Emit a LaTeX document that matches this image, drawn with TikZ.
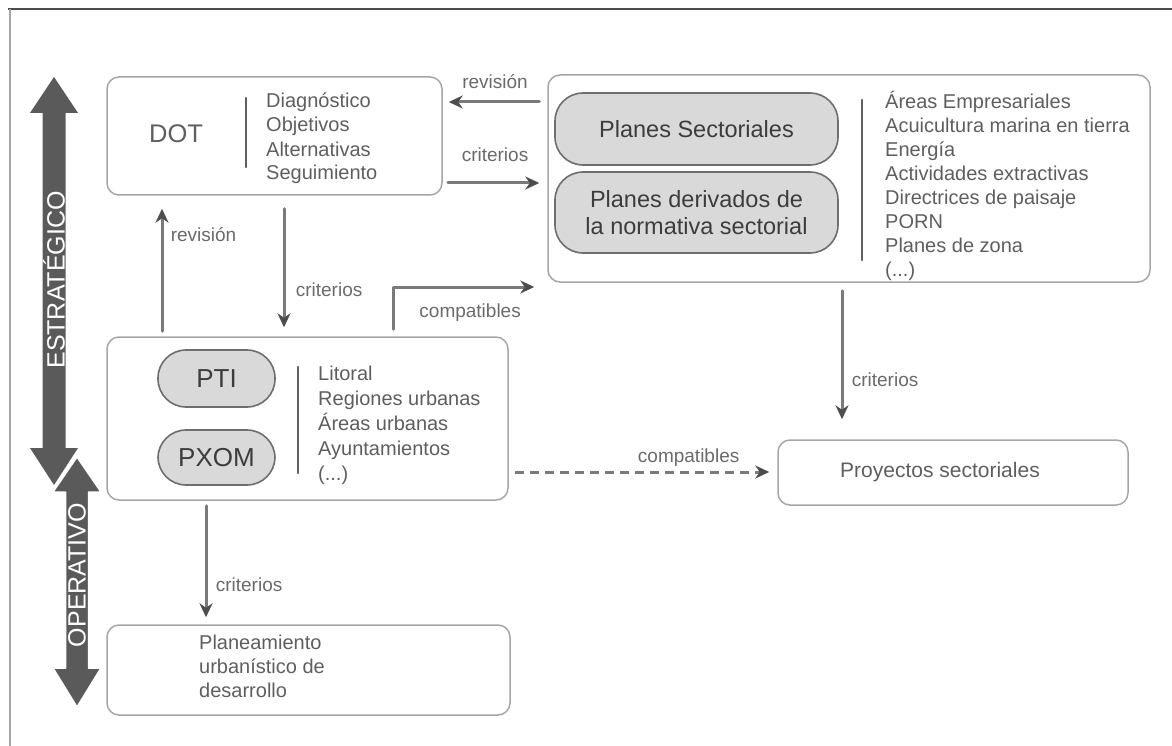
\documentclass[tikz,border=0pt]{standalone}
\usepackage{fontspec}
\setmainfont{Liberation Sans}
\usetikzlibrary{arrows.meta}
\definecolor{boxgray}{HTML}{A6A6A6}
\definecolor{linegray}{HTML}{7A7A7A}
\definecolor{arrowdark}{HTML}{4D4D4D}
\definecolor{bigarrow}{HTML}{5A5A5A}
\definecolor{pillfill}{HTML}{D9D9D9}
\definecolor{pilledge}{HTML}{6E6E6E}
\definecolor{pilltext}{HTML}{3C3C3C}
\definecolor{listgray}{HTML}{5E5E5E}
\definecolor{labelgray}{HTML}{6A6A6A}
\begin{document}
\begin{tikzpicture}[
	x=1pt, y=-1pt,
	>={Stealth[length=14pt,width=13pt,color=arrowdark]},
	line cap=round,
	line join=round,
	box/.style={draw=boxgray, line width=1.5pt, rounded corners=12pt, inner sep=0pt},
	pill/.style={draw=pilledge, fill=pillfill, line width=1.6pt, rounded corners=28pt, inner sep=0pt, text=pilltext, align=center},
	conn/.style={->, draw=linegray, line width=3pt},
	lbl/.style={text=labelgray, font=\fontsize{19}{23}\selectfont},
	list/.style={text=listgray, align=left, anchor=base west, inner sep=0pt, font=\fontsize{20}{24}\selectfont},
	]
	\useasboundingbox (0,0) rectangle (1172,746);
	\draw[arrowdark, line width=2.5pt, line cap=butt] (8,9) -- (1172,9);
	\draw[boxgray, line width=1.5pt, line cap=butt] (10,9) -- (10,746);

	% boxes
	\node[box, minimum width=335pt, minimum height=118pt] (dot) at (274.5,136) {};
	\node[box, minimum width=602pt, minimum height=207pt] (sect) at (849,178.5) {};
	\node[box, minimum width=401pt, minimum height=163pt] (pti) at (307.5,418.5) {};
	\node[box, minimum width=350pt, minimum height=65pt] (proy) at (953,472.5) {};
	\node[box, minimum width=403pt, minimum height=90pt] (plan) at (308.5,670) {};

	% contents (lists sit on the baseline of their last line)
	\node[text=listgray, font=\fontsize{25.5}{30}\selectfont] (dottxt) at (176,134) {DOT};
	\draw[listgray, line width=2.5pt] (246,98) -- (246,167);
	\node[list] (dotlist) at (266,180) {Diagnóstico\\Objetivos\\Alternativas\\Seguimiento};

	\node[pill, minimum width=283pt, minimum height=72pt, font=\fontsize{23.5}{27}\selectfont] (ps) at (696.5,129) {Planes Sectoriales};
	\node[pill, minimum width=283pt, minimum height=81pt, font=\fontsize{23.5}{27}\selectfont] (pd) at (696.5,212.5) {Planes derivados de\\la normativa sectorial};
	\draw[listgray, line width=2.5pt] (862,100) -- (862,260);
	\node[list] (sectlist) at (885,276) {Áreas Empresariales\\Acuicultura marina en tierra\\Energía\\Actividades extractivas\\Directrices de paisaje\\PORN\\Planes de zona\\(...)};

	\node[pill, minimum width=117pt, minimum height=57pt, font=\fontsize{26}{30}\selectfont] (ptipill) at (216.5,378.5) {PTI};
	\node[pill, minimum width=117pt, minimum height=55pt, font=\fontsize{26}{30}\selectfont] (pxom) at (216.5,457.5) {PXOM};
	\draw[listgray, line width=2.5pt] (298,367) -- (298,473);
	\node[list, font=\fontsize{20}{25}\selectfont] (ptilist) at (318,480) {Litoral\\Regiones urbanas\\Áreas urbanas\\Ayuntamientos\\(...)};

	\node[text=listgray, font=\fontsize{21}{25}\selectfont] (proytxt) at (940,472.5) {Proyectos sectoriales};
	\node[list] (plantxt) at (199,697) {Planeamiento\\urbanístico de\\desarrollo};

	% connectors
	\draw[conn, shorten <=8pt, shorten >=6pt] (sect.west |- 0,102) -- (dot.east |- 0,102)
		node[lbl, midway, above=8pt] {revisión};
	\draw[conn, shorten <=5pt, shorten >=8pt] (dot.east |- 0,183) -- (sect.west |- 0,183)
		node[lbl, midway, above=16pt] {criterios};
	\draw[conn, shorten <=5pt, shorten >=13pt] (pti.north -| 162,0) -- (dot.south -| 162,0)
		node[lbl, pos=0.72, right=4pt] {revisión};
	\draw[conn, shorten <=13pt, shorten >=9pt] (dot.south -| 284,0) -- (pti.north -| 284,0)
		node[lbl, pos=0.67, right=7pt] {criterios};
	\draw[conn, shorten <=7pt, shorten >=13pt] (pti.north -| 393,0) |- (sect.west |- 0,287)
		node[lbl, pos=0.75, below=12pt] {compatibles};
	\draw[conn, shorten <=8pt, shorten >=20pt] (sect.south -| 842,0) -- (proy.north -| 842,0)
		node[lbl, pos=0.62, right=5pt] {criterios};
	\draw[conn, dashed, dash pattern=on 9pt off 6pt, line cap=butt, shorten <=6pt, shorten >=8pt] (pti.east |- 0,472) -- (proy.west |- 0,472)
		node[lbl, pos=0.67, above=1pt] {compatibles};
	\draw[conn, shorten <=5pt, shorten >=7pt] (pti.south -| 206,0) -- (plan.north -| 206,0)
		node[lbl, pos=0.68, right=5pt] {criterios};

	% side arrows
	\fill[bigarrow] (54,77) -- (78,113) -- (65.5,113) -- (65.5,448) -- (78,448) -- (54,485)
		-- (30,448) -- (42.5,448) -- (42.5,113) -- (30,113) -- cycle;
	\filldraw[fill=bigarrow, draw=white, line width=1.5pt] (77,457) -- (101,492) -- (88.5,492) -- (88.5,668)
		-- (101,668) -- (77,707) -- (53,668) -- (65.5,668) -- (65.5,492) -- (53,492) -- cycle;
	\node[text=white, rotate=90, font=\fontsize{25}{30}\selectfont] (estr) at (54,280) {ESTRATÉGICO};
	\node[text=white, rotate=90, font=\fontsize{25}{30}\selectfont] (oper) at (77,575) {OPERATIVO};
\end{tikzpicture}
\end{document}
